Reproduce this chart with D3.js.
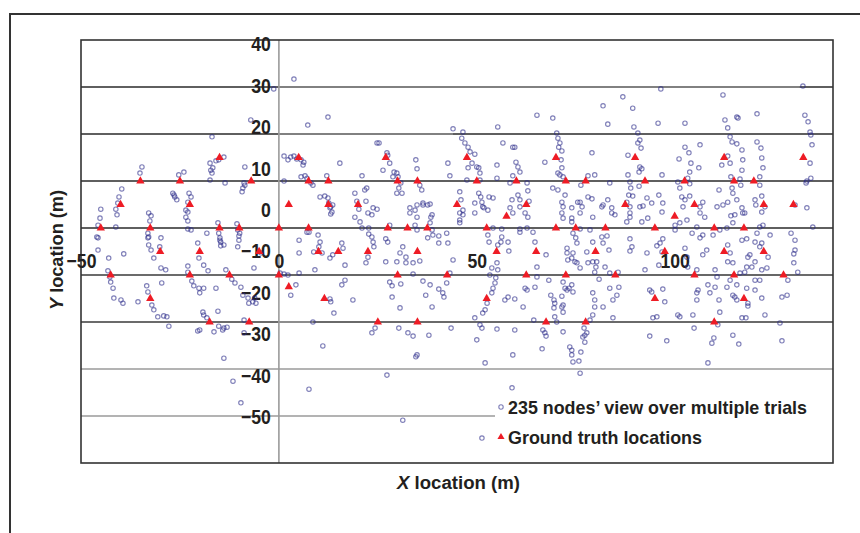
<!DOCTYPE html>
<html>
<head>
<meta charset="utf-8">
<script src="https://cdn.jsdelivr.net/npm/d3@7"></script>
<style>
body { margin: 0; background: #fff; }
text { font-family: "Liberation Sans", Arial, sans-serif; font-weight: bold; fill: #231f20; }
</style>
</head>
<body>
<script>
// Tick values and labels
var xTicks = [-50, 0, 50, 100];
var yTicks = [-50, -40, -30, -20, -10, 0, 10, 20, 30, 40];
var gridValues = [30, 20, 10, 0, -10, -20, -30, -40];
var legendLabels = ["235 nodes\u2019 view over multiple trials", "Ground truth locations"];

// Ground truth locations (m)
var truthPoints = [
    [-15,15],[5,15],[27,15],[47.5,15],[70,15],[90,15],[112.5,15],[132.5,15],
    [-35,10],[-25,10],[-7,10],[7.5,10],[12.5,10],[30,10],[35,10],[50,10],[60,10],[72.5,10],[77.5,10],[92.5,10],[102.5,10],[115,10],[120,10],
    [-40,5],[-22.5,5],[2.5,5],[12.5,5],[20,5],[45,5],[62.5,5],[87.5,5],[105,5],[122.5,5],[130,5],
    [57.5,2.5],[100,2.5],
    [-45,0],[-32.5,0],[-15,0],[-10,0],[0,0],[7.5,0],[27.5,0],[32.5,0],[37.5,0],[52.5,0],[70,0],[75,0],[82.5,0],[95,0],[110,0],[117.5,0],
    [-30,-5],[-20,-5],[-5,-5],[10,-5],[15,-5],[22.5,-5],[35,-5],[55,-5],[65,-5],[80,-5],[97.5,-5],[112.5,-5],[122.5,-5],
    [-42.5,-10],[-22.5,-10],[-12.5,-10],[0,-10],[30,-10],[42.5,-10],[62.5,-10],[72.5,-10],[85,-10],[105,-10],[115,-10],[127.5,-10],
    [2.5,-12.5],
    [-32.5,-15],[11.5,-15],[52.5,-15],[95,-15],[117.5,-15],
    [-17.5,-20],[-7.5,-20],[25,-20],[35,-20],[67.5,-20],[77.5,-20],[110,-20]
];

// Estimated node positions over all trials (m)
var nodePoints = [
    [-16.9,19.4],[-34.6,13.0],[-35.1,11.7],[-39.7,8.3],[-40.4,6.6],[-40.7,5.3],[-41.2,4.0],[-40.9,2.8],[-41.2,0.2],[-45.0,4.0],
    [-45.2,2.1],[-45.7,0.6],[-46.0,-1.9],[-25.3,11.3],[-24.0,11.9],[-26.8,7.4],[-26.3,6.6],[-25.8,6.0],[-22.7,7.4],[-22.2,6.6],
    [-23.0,5.5],[-23.5,3.8],[-23.5,2.3],[-23.0,1.5],[-23.0,-0.2],[-32.9,3.2],[-32.3,2.6],[-32.6,1.5],[-33.1,-1.1],[-32.9,-1.9],
    [-29.8,-2.1],[-17.4,13.8],[-16.7,12.8],[-16.9,11.7],[-17.4,10.2],[-15.9,14.3],[-13.9,15.1],[-13.6,9.6],[-8.6,13.0],[-8.8,9.6],
    [-9.1,8.5],[-9.3,7.7],[-15.4,1.1],[-15.2,-1.1],[-14.9,-2.1],[-10.6,0.9],[-10.4,-0.4],[-10.1,-1.7],[1.3,10.0],[1.3,15.3],
    [2.3,14.5],[3.0,15.1],[3.8,15.3],[4.5,14.7],[3.8,31.7],[-1.3,29.6],[-7.1,23.0],[-15.2,14.5],[-17.2,12.3],
    [-45.7,-2.1],[-45.7,-4.7],[-43.0,-6.4],[-43.2,-9.1],[-39.2,-5.5],[-42.5,-11.5],[-41.9,-12.8],[-41.7,-14.9],[-39.9,-15.3],[-39.4,-16.0],
    [-35.6,-15.7],[-33.1,-2.1],[-32.9,-3.6],[-32.3,-4.7],[-30.1,-4.0],[-31.6,-6.4],[-29.8,-8.5],[-28.6,-8.9],[-29.6,-11.7],[-33.4,-12.3],
    [-33.1,-13.6],[-32.1,-16.4],[-31.6,-17.4],[-30.6,-18.9],[-29.1,-18.7],[-27.8,-20.9],[-20.5,-3.2],[-20.2,-6.4],[-19.0,-7.9],[-17.9,-9.1],
    [-23.0,-8.1],[-23.0,-9.4],[-22.0,-11.3],[-21.5,-12.3],[-20.2,-12.8],[-19.0,-12.8],[-20.0,-13.8],[-15.9,-12.8],[-14.7,-3.0],[-13.9,-3.6],
    [-10.1,-2.6],[-13.4,-8.9],[-11.9,-10.9],[-11.1,-11.7],[-9.6,-12.6],[-9.1,-14.3],[-7.8,-14.9],[-6.6,-15.7],[-5.8,-16.0],[-7.6,-16.0],
    [-6.3,-8.5],[-4.5,-5.3],[-19.2,-17.9],[-19.0,-18.5],[-18.2,-19.1],[-15.4,-17.7],[-15.2,-20.9],[-14.2,-21.7],[-13.9,-21.3],[-16.4,-22.1],
    [-20.5,-21.9],[-13.9,-27.7],[-8.8,-22.3],[-8.8,-19.6],[1.3,-9.8],[2.3,-10.0],[4.3,-12.1],[3.0,-14.3],
    [-42.7,-10.4],[-28.3,-18.9],[-20.0,-21.7],[-13.1,-21.1],[-26.5,7.0],[-23.0,3.4],[-22.2,-0.4],[-14.9,-2.6],[-14.7,-3.8],[-10.4,-4.0],
    [-9.9,-1.1],[-8.6,9.1],[-18.2,-1.1],[-6.1,-14.9],[0.3,-9.6],[5.1,-9.6],[-11.6,-32.6],[-9.6,-37.2],[7.6,-34.3],
    [12.4,23.6],[7.3,21.9],[5.6,14.5],[6.1,13.4],[6.3,14.0],[5.6,10.9],[6.6,11.1],[7.1,10.6],[8.1,9.6],[8.6,9.1],
    [12.1,11.1],[12.9,4.3],[13.4,3.4],[10.4,6.6],[11.6,6.8],[12.4,6.4],[12.6,5.3],[15.4,13.8],[21.0,11.1],[19.2,7.4],
    [21.7,8.1],[22.2,8.5],[19.7,5.7],[22.0,5.7],[23.5,2.8],[24.8,18.1],[25.3,18.1],[27.3,16.0],[27.5,15.5],[28.0,13.8],
    [29.1,11.9],[29.8,11.7],[28.8,10.9],[30.1,10.9],[30.8,9.6],[30.3,8.5],[29.8,7.4],[31.1,7.4],[26.3,12.3],[34.6,14.5],
    [34.9,12.6],[35.6,9.1],[36.1,8.1],[36.4,5.3],[38.2,5.1],[33.1,4.3],[34.9,2.3],[42.7,13.8],[43.2,11.1],[44.0,21.1],
    [46.5,20.4],[46.2,19.1],[47.0,18.1],[47.8,17.2],[48.3,16.2],[49.5,15.7],[48.8,13.8],[50.0,13.0],[50.5,12.8],[50.8,11.7],
    [47.8,12.8],[47.5,10.2],[50.8,10.2],[50.5,7.4],[51.0,6.6],[45.7,7.7],[46.0,6.0],[46.5,3.8],[45.7,3.2],[49.5,5.3],
    [51.3,5.5],[53.1,6.6],[54.1,6.4],[51.8,4.3],[52.8,3.8],[55.1,13.4],[55.3,21.5],[56.6,18.1],[55.1,10.6],[59.1,17.2],
    [59.6,17.2],[59.9,14.0],[60.4,13.0],[60.9,11.9],[59.1,11.1],[62.7,9.6],[58.4,9.6],[60.4,7.0],[60.9,6.0],[58.9,6.0],
    [58.4,4.3],[59.1,3.2],[62.9,7.9],[63.2,5.7],[65.2,24.0],[69.2,23.4],[67.2,14.0],[70.2,20.2],[70.5,19.1],[71.0,18.1],
    [70.7,17.2],[71.5,16.4],[71.3,14.5],[71.5,12.8],[70.5,11.7],[71.0,11.3],[71.8,10.9],[69.2,8.5],[70.5,8.1],[72.3,7.0],
    [71.5,5.5],[71.8,4.5],[71.5,3.2],[74.0,4.3],[75.5,5.5],
    [81.9,26.0],[83.1,22.1],[86.9,27.9],[89.4,25.5],[89.7,21.5],[90.7,20.2],[91.2,18.7],[90.7,18.1],[91.5,17.0],[88.2,15.5],
    [91.2,13.0],[91.7,12.6],[91.0,11.9],[88.2,11.3],[88.7,9.8],[88.9,8.5],[88.4,7.0],[89.4,6.8],[87.9,5.5],[88.7,4.5],
    [91.0,8.9],[92.0,4.7],[93.0,6.4],[94.2,5.3],[95.8,22.3],[96.5,29.6],[96.8,11.3],[96.0,7.0],[97.0,5.3],[96.8,3.4],
    [93.2,2.1],[102.6,22.3],[102.6,17.2],[103.6,16.0],[101.1,14.7],[104.1,13.8],[103.8,11.9],[103.3,10.6],[106.1,12.8],[106.4,17.7],
    [100.8,9.8],[103.8,9.4],[101.3,8.5],[101.8,6.6],[102.6,6.0],[103.8,6.8],[102.1,4.5],[106.4,4.5],[107.1,5.5],[106.4,3.2],
    [107.6,2.3],[112.2,28.3],[112.7,23.0],[113.4,21.3],[114.0,19.4],[114.5,18.3],[115.7,17.9],[114.0,13.8],[111.9,13.4],[113.4,15.3],
    [117.0,16.6],[117.2,14.5],[117.0,12.3],[116.5,10.4],[114.2,10.9],[116.7,9.1],[115.7,23.6],[116.0,23.4],[114.5,8.5],[114.7,7.4],
    [115.7,6.0],[113.4,5.5],[112.2,4.9],[110.7,4.5],[111.2,8.1],[117.2,3.2],[117.7,3.2],[114.2,2.6],[120.8,24.3],[120.8,18.3],
    [121.8,17.0],[122.0,14.9],[122.3,12.8],[121.5,10.9],[121.5,9.1],[122.0,6.8],[120.3,6.0],[120.5,4.9],[122.0,3.4],[132.9,24.0],
    [133.7,22.6],[134.2,20.4],[134.4,19.8],[134.7,17.7],[134.2,13.8],[133.4,10.0],[133.2,9.6],[134.4,10.6],[133.4,4.3],[132.4,30.2],
    [130.4,4.9],[76.1,5.5],[76.6,4.5],[76.1,3.2],[76.3,9.1],[78.1,11.1],[79.8,11.3],[79.1,16.0],[78.1,6.6],[79.1,6.2],
    [83.6,9.6],[81.6,4.5],[84.1,4.3],[84.1,3.2],[83.1,6.0],[79.3,2.3],[74.0,2.1],[88.7,2.3],
    [7.1,-0.9],[5.1,-2.6],[5.1,-5.3],[9.1,-8.9],[9.9,-1.5],[10.4,-3.0],[10.1,-4.0],[8.8,-5.1],[10.9,-5.3],[7.6,-0.9],
    [15.9,-3.2],[16.2,-4.3],[13.6,-5.7],[12.9,-6.4],[16.7,-7.9],[16.7,-11.1],[15.9,-12.1],[22.0,-7.4],[22.5,-6.2],[22.7,-1.3],
    [23.5,-1.9],[23.8,-3.0],[24.0,-4.0],[22.7,0],[28.0,0.6],[27.0,-2.3],[27.5,-3.0],[30.6,-5.3],[31.3,-4.0],[32.1,-6.2],
    [32.1,-7.4],[33.9,-7.4],[35.6,-7.0],[33.9,-9.8],[27.0,-7.2],[29.8,-7.2],[28.6,-12.3],[28.6,-14.7],[30.8,-11.9],[30.6,-17.0],
    [30.3,-21.3],[32.6,-22.3],[33.9,-23.0],[34.9,-27.0],[34.9,-0.4],[34.4,0.6],[38.2,1.1],[38.7,2.8],[38.7,-0.4],[38.9,-1.5],
    [37.6,-2.1],[40.4,-1.7],[40.4,-3.2],[42.4,-1.1],[42.7,-3.2],[44.0,-6.8],[36.4,-11.3],[38.2,-12.1],[40.4,-13.0],[41.4,-13.8],
    [41.7,-14.7],[37.1,-14.3],[38.7,-16.8],[37.9,-22.8],[43.5,-21.3],[43.2,-9.6],[42.4,-11.7],[49.5,-19.1],[50.8,-20.6],[51.3,-21.3],
    [51.5,-18.1],[52.1,-17.4],[52.6,-16.0],[50.0,-23.8],[52.1,-28.7],[53.8,-13.8],[54.1,-12.8],[54.6,-11.7],[54.8,-10.6],[53.3,-10.0],
    [53.8,-8.5],[55.1,-7.4],[55.3,-8.9],[56.1,-3.0],[55.3,-3.6],[56.3,-1.9],[56.3,-0.2],[58.1,-4.9],[57.9,-3.0],[53.1,-3.0],
    [52.8,-1.5],[54.1,0],[55.1,-21.5],[58.9,-34.0],[57.9,-14.7],[59.6,-15.1],[61.7,-16.8],[62.2,-12.8],[62.7,-13.2],[60.9,4.5],
    [60.9,-0.2],[60.9,-0.9],[62.2,3.2],[62.9,2.3],[62.7,0],[64.2,-0.9],[64.4,-19.6],[66.7,-21.7],[67.2,-22.3],[67.5,-23.0],
    [66.5,-25.7],[64.7,-3.0],[65.2,-8.3],[64.7,-12.6],[67.5,-5.7],[68.2,-11.1],[68.7,-14.3],[69.5,-15.3],[69.7,-16.0],[69.5,-17.0],
    [69.7,-18.9],[70.2,-20.0],[71.8,-17.9],[71.5,-16.8],[71.8,-22.1],[73.5,-25.3],[74.0,-26.0],[74.0,-27.0],[74.3,-28.5],[71.8,2.1],
    [74.0,1.3],[72.8,-4.3],[72.8,-5.3],[74.3,-5.3],[74.0,-6.4],[74.8,-7.2],[72.8,-13.2],[73.3,-12.8],[75.0,-2.1],[75.3,-3.2],
    [65.2,-10.4],[23.8,4.3],[22.5,3.2],[24.8,4.0],[20.2,4.0],[19.2,2.3],[20.5,1.3],[21.0,0],[13.1,3.0],[13.1,4.5],
    [13.6,4.9],[27.3,-31.3],[59.1,-27.0],[59.6,-21.7],[57.1,-15.3],[33.1,3.2],[34.4,3.8],[34.9,4.9],[36.4,4.9],[37.6,4.9],
    [38.4,2.3],[49.5,3.2],[51.5,4.5],[45.7,1.7],[45.7,1.1],[46.5,2.8],
    [8.6,-20.0],[11.1,-25.1],[12.9,-15.1],[13.1,-15.7],[18.7,-15.3],[13.9,-18.1],[24.3,-21.3],[23.5,-22.3],[34.6,-27.4],[28.0,-11.5],
    [74.3,-1.1],[73.0,-6.8],[76.1,-0.2],[77.8,-5.1],[78.1,-7.4],[79.3,-7.2],[80.3,-7.2],[80.1,-8.3],[79.8,-9.4],[80.9,-10.9],
    [81.6,-1.9],[81.9,-3.2],[82.9,-1.7],[83.4,-4.7],[82.4,-8.3],[78.6,-0.4],[79.3,-3.0],[83.6,-9.6],[85.7,-9.4],[85.9,-12.6],
    [85.4,-14.3],[84.9,2.8],[81.9,4.9],[87.9,1.3],[88.7,3.2],[88.7,-4.9],[88.7,-2.3],[89.2,-4.0],[91.2,4.5],[91.7,1.3],
    [93.0,-5.3],[92.5,-8.9],[93.7,-13.2],[94.2,-13.6],[95.5,-3.8],[96.3,-3.2],[97.0,-2.3],[96.8,-5.1],[96.0,-7.9],[97.0,-13.0],
    [97.5,-15.7],[95.5,-18.9],[94.5,-19.1],[93.7,-23.0],[98.0,-24.0],[100.8,-18.5],[101.3,-18.9],[100.1,-0.4],[100.1,0.6],[101.3,1.1],
    [103.1,1.7],[102.6,-4.3],[103.1,-6.2],[103.3,-8.3],[104.4,-1.1],[105.6,0.2],[105.6,-8.9],[105.9,-13.2],[105.6,-13.8],[105.6,-15.3],
    [104.6,-18.5],[104.9,-21.3],[106.4,-2.1],[107.1,-1.5],[107.1,-5.7],[108.1,-4.7],[108.4,-12.1],[108.9,-13.8],[109.7,-1.5],[110.2,-8.9],
    [110.2,-12.6],[110.7,-10.4],[108.4,-28.7],[109.9,-23.4],[109.4,-24.5],[110.9,-20.6],[111.2,-15.3],[111.4,-17.9],[113.2,-12.6],[114.0,-11.1],
    [114.7,-14.3],[115.2,-14.7],[115.7,-15.3],[115.7,-12.1],[111.4,-0.4],[113.2,0],[113.4,-3.6],[114.0,-5.3],[114.7,-7.4],[113.4,-7.2],
    [114.7,1.1],[115.2,2.8],[117.0,4.3],[117.0,-2.6],[118.2,-2.3],[118.5,-6.2],[119.0,-5.7],[119.5,-8.3],[118.2,-8.3],[117.7,-9.4],
    [118.2,-12.8],[116.5,-9.6],[118.5,-16.0],[118.5,-16.6],[117.0,-19.1],[118.0,-19.1],[114.7,-22.8],[116.2,-24.7],[120.8,-1.1],[121.5,0.2],
    [120.3,-3.0],[121.5,-4.0],[120.3,-7.2],[122.0,-8.9],[120.3,-11.1],[121.5,-11.1],[120.3,-13.2],[122.0,-14.9],[122.8,-18.5],[122.0,-3.2],
    [123.6,-6.2],[124.1,-1.5],[123.3,-8.5],[122.8,4.5],[122.3,0.6],[126.6,-20.2],[127.1,-24.0],[127.1,-14.7],[128.4,-14.3],[129.4,-1.1],
    [130.4,-2.6],[130.4,-4.7],[130.1,-5.5],[130.1,-7.4],[131.1,-9.4],[128.6,-11.1],[134.9,0.2],
    [71.8,-11.5],[72.3,-12.8],[71.5,-14.5],[71.8,-16.4],[74.0,-12.1],[74.3,-13.6],[76.1,-8.5],[75.3,-7.4],[79.3,-13.8],[79.8,-15.3],
    [79.8,-16.8],[81.9,-16.8],[79.3,-18.5],[78.6,-19.6],[77.1,-21.3],[77.3,-22.8],[76.8,-23.2],[77.8,-22.3],[77.3,-24.3],[76.3,-26.4],
    [75.8,-28.3],[76.1,-30.9],[84.4,-19.1],[84.4,-15.3],[83.6,-12.8],
    [31.3,-40.9],[51.3,-44.7]
];

// Grid lines: base colour, plus lighter stretches where the original fades
var gridColor = {"30": "#2a2a2a", "20": "#2a2a2a", "10": "#2a2a2a", "0": "#2a2a2a",
                 "-10": "#3a3a3a", "-20": "#3a3a3a", "-30": "#9a9a9a", "-40": "#9a9a9a"};
var gridEnd = {"-40": 54.6};
var gridFade = [
    [30, 0, 131.6, "#8c8c8c"],
    [20, 0, 44, "#8c8c8c"],
    [-10, 0, 128.4, "#666"],
    [-20, 0, 127, "#6a6a6a"],
    [-20, 0, 8.6, "#9a9a9a"]
];

// Squeeze text horizontally so it reads like the condensed face of the original
function condense(sel, factor) {
    sel.each(function() {
        var w = this.getComputedTextLength();
        d3.select(this)
            .attr("textLength", w * factor)
            .attr("lengthAdjust", "spacingAndGlyphs");
    });
}

function fitWidth(sel, target) {
    sel.attr("textLength", target)
        .attr("lengthAdjust", "spacingAndGlyphs");
}

// Set margin, width and height of the plot area
var margin = {top: 40, left: 81},
    width = 752,
    height = 423;

var svg = d3.select("body")
    .append("svg")
    .attr("width", 860)
    .attr("height", 533);

// Outer frame (runs off the right and bottom of the picture)
svg.append("rect")
    .attr("x", 10)
    .attr("y", 14)
    .attr("width", 900)
    .attr("height", 600)
    .attr("fill", "none")
    .attr("stroke", "#333")
    .attr("stroke-width", 2);

var chart = svg.append("g")
    .attr("transform", "translate(" + margin.left + "," + margin.top + ")");

// Scales
var xScale = d3.scaleLinear()
    .domain([-50, 140])
    .range([0, width]);

var yScale = d3.scaleLinear()
    .domain([-50, 40])
    .range([height, 0]);

// the y labels of the original sit on their own, slightly tighter spacing
var yLabelScale = d3.scaleLinear()
    .domain([-50, 40])
    .range([377, 4]);

// Grid lines
chart.selectAll(".grid")
    .data(gridValues)
    .enter()
    .append("line")
    .attr("class", "grid")
    .attr("x1", 0)
    .attr("x2", function(d) { return gridEnd[d] !== undefined ? xScale(gridEnd[d]) : width; })
    .attr("y1", function(d) { return yScale(d); })
    .attr("y2", function(d) { return yScale(d); })
    .attr("stroke", function(d) { return gridColor[d]; })
    .attr("stroke-width", 1.6);

chart.selectAll(".grid-fade")
    .data(gridFade)
    .enter()
    .append("line")
    .attr("class", "grid-fade")
    .attr("x1", function(d) { return xScale(d[1]); })
    .attr("x2", function(d) { return xScale(d[2]); })
    .attr("y1", function(d) { return yScale(d[0]); })
    .attr("y2", function(d) { return yScale(d[0]); })
    .attr("stroke", function(d) { return d[3]; })
    .attr("stroke-width", 1.6);

// Vertical axis line at x = 0
chart.append("line")
    .attr("x1", xScale(0))
    .attr("x2", xScale(0))
    .attr("y1", 0)
    .attr("y2", height)
    .attr("stroke", "#9a9a9a")
    .attr("stroke-width", 1.6);

// Plot border
chart.append("rect")
    .attr("width", width)
    .attr("height", height)
    .attr("fill", "none")
    .attr("stroke", "#333")
    .attr("stroke-width", 1.6);

// Axes (labels only)
var yAxis = d3.axisLeft()
    .scale(yLabelScale)
    .tickValues(yTicks)
    .tickSize(0)
    .tickPadding(0);

var xAxis = d3.axisBottom()
    .scale(xScale)
    .tickValues(xTicks)
    .tickSize(0)
    .tickPadding(0);

chart.append("g")
    .attr("class", "y axis")
    .attr("transform", "translate(" + (xScale(0) - 8) + ",0)")
    .call(yAxis);

chart.append("g")
    .attr("class", "x axis")
    .attr("transform", "translate(0,213)")
    .call(xAxis);

chart.selectAll(".axis .domain").remove();
chart.selectAll(".axis text")
    .attr("fill", "#231f20")
    .style("font-size", "21px")
    .style("font-family", "\"Liberation Sans\", Arial, sans-serif")
    .style("font-weight", "bold")
    .call(condense, 0.84);

// Node estimates
chart.selectAll(".node")
    .data(nodePoints)
    .enter()
    .append("circle")
    .attr("class", "node")
    .attr("cx", function(d) { return xScale(d[0]); })
    .attr("cy", function(d) { return yScale(d[1]); })
    .attr("r", 2.2)
    .attr("fill", "none")
    .attr("stroke", "#2a2a88")
    .attr("stroke-opacity", 0.6)
    .attr("stroke-width", 1.15);

// Ground truth
var triangle = d3.symbol().type(d3.symbolTriangle).size(30);

chart.selectAll(".truth")
    .data(truthPoints)
    .enter()
    .append("path")
    .attr("class", "truth")
    .attr("d", triangle)
    .attr("transform", function(d) { return "translate(" + xScale(d[0]) + "," + yScale(d[1]) + ")"; })
    .attr("fill", "#ee1c25");

// Legend
var legend = svg.append("g")
    .attr("class", "legend");

legend.append("rect")
    .attr("x", 495)
    .attr("y", 396)
    .attr("width", 334)
    .attr("height", 56)
    .attr("fill", "#fff");

legend.append("circle")
    .attr("cx", 501)
    .attr("cy", 407)
    .attr("r", 2.2)
    .attr("fill", "none")
    .attr("stroke", "#2a2a88")
    .attr("stroke-opacity", 0.6)
    .attr("stroke-width", 1.1);

legend.append("path")
    .attr("d", d3.symbol().type(d3.symbolTriangle).size(22))
    .attr("transform", "translate(501,437)")
    .attr("fill", "#ee1c25");

var legendWidths = [299, 194];

legend.selectAll(".legend-label")
    .data(legendLabels)
    .enter()
    .append("text")
    .attr("class", "legend-label")
    .attr("x", 508)
    .attr("y", function(d, i) { return 414 + i * 30; })
    .style("font-size", "19px")
    .text(function(d) { return d; })
    .each(function(d, i) { fitWidth(d3.select(this), legendWidths[i]); });

// Axis titles
var xTitle = svg.append("text")
    .attr("x", 397)
    .attr("y", 489)
    .style("font-size", "18px");
xTitle.append("tspan")
    .style("font-style", "italic")
    .text("X");
xTitle.append("tspan")
    .text(" location (m)");
fitWidth(xTitle, 123);

var yTitle = svg.append("text")
    .attr("transform", "translate(63,310) rotate(-90)")
    .style("font-size", "18px");
yTitle.append("tspan")
    .style("font-style", "italic")
    .text("Y");
yTitle.append("tspan")
    .text(" location (m)");
fitWidth(yTitle, 120);
</script>
</body>
</html>
